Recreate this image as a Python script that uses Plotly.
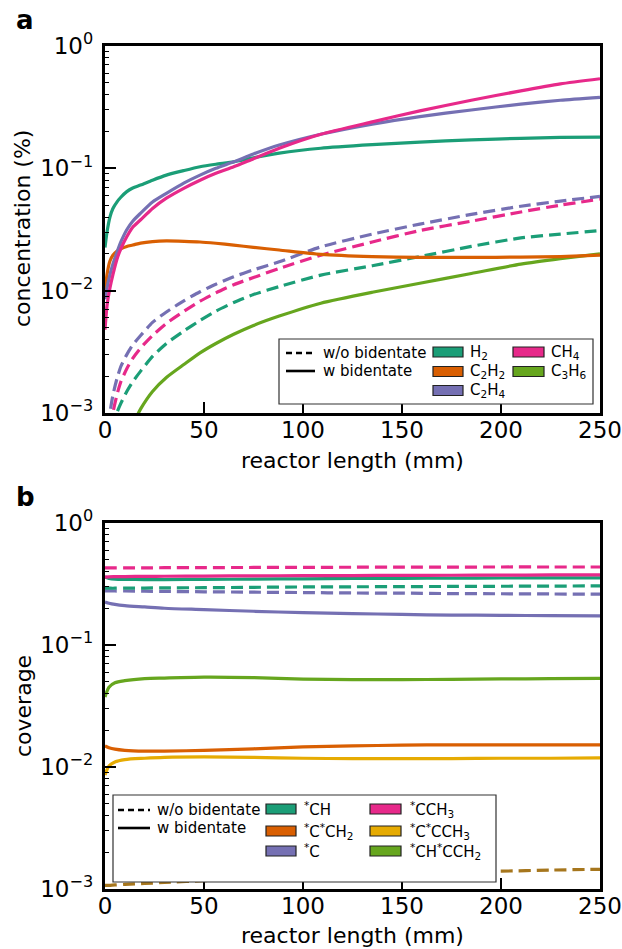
import plotly.graph_objects as go
from plotly.subplots import make_subplots

# ---------------- data: panel a (gas concentration, %) ----------------
x_a = [0, 1, 2.5, 4, 6, 8, 11, 14, 18, 24, 31, 40, 48, 56, 65, 75, 88, 109, 135, 159, 185, 210, 230, 250]

h2_w = [0.0225, 0.030, 0.040, 0.047, 0.053, 0.058, 0.0645, 0.069, 0.073, 0.080, 0.088, 0.096, 0.103, 0.108,
        0.113, 0.122, 0.133, 0.146, 0.156, 0.164, 0.171, 0.176, 0.179, 0.180]
c2h2_w = [0.0095, 0.0135, 0.0175, 0.0195, 0.021, 0.022, 0.023, 0.0236, 0.0245, 0.0252, 0.0255, 0.0253, 0.025, 0.0244,
          0.0236, 0.0226, 0.0215, 0.0198, 0.019, 0.0187, 0.0187, 0.0188, 0.019, 0.0195]
c2h4_w = [0.0085, 0.0105, 0.0135, 0.0165, 0.0205, 0.025, 0.0315, 0.037, 0.043, 0.053, 0.0624, 0.076, 0.088, 0.100,
          0.113, 0.131, 0.155, 0.190, 0.230, 0.265, 0.300, 0.335, 0.360, 0.380]
ch4_w = [0.0048, 0.0075, 0.0105, 0.0135, 0.018, 0.022, 0.0276, 0.033, 0.038, 0.047, 0.057, 0.069, 0.080, 0.091,
         0.103, 0.120, 0.146, 0.190, 0.240, 0.295, 0.360, 0.430, 0.490, 0.540]
c3h6_w = [0.00003, 0.00005, 0.00012, 0.0002, 0.0003, 0.00042, 0.00062, 0.0008, 0.00108, 0.0015, 0.00195, 0.0025,
          0.0031, 0.0037, 0.0044, 0.0052, 0.0062, 0.0079, 0.0097, 0.0115, 0.0138, 0.0165, 0.0183, 0.020]

h2_wo = [0.00005, 0.0001, 0.0003, 0.0006, 0.001, 0.0012, 0.0015, 0.0018, 0.0022, 0.0029, 0.0037, 0.0047, 0.0057,
         0.0068, 0.0080, 0.0093, 0.0108, 0.0134, 0.016, 0.019, 0.023, 0.027, 0.029, 0.031]
c2h4_wo = [0.0002, 0.0005, 0.001, 0.0014, 0.0019, 0.0024, 0.003, 0.0036, 0.0043, 0.0055, 0.0067, 0.0083, 0.0098,
           0.0113, 0.0130, 0.0148, 0.0172, 0.0228, 0.029, 0.035, 0.042, 0.049, 0.054, 0.059]
ch4_wo = [0.0001, 0.0003, 0.0006, 0.001, 0.0014, 0.0018, 0.0023, 0.0028, 0.0034, 0.0043, 0.0054, 0.0068, 0.0082,
          0.0096, 0.0112, 0.0128, 0.0152, 0.0195, 0.025, 0.031, 0.037, 0.044, 0.050, 0.056]

# ---------------- data: panel b (surface coverage) ----------------
x_b = [0, 2, 5, 10, 20, 30, 50, 75, 100, 125, 150, 175, 200, 225, 250]

ch_w = [0.36, 0.352, 0.347, 0.345, 0.344, 0.344, 0.345, 0.347, 0.349, 0.351, 0.352, 0.353, 0.354, 0.355, 0.355]
cch2_w = [0.0149, 0.0144, 0.014, 0.0137, 0.0135, 0.0135, 0.0137, 0.0141, 0.0146, 0.0149, 0.0151, 0.0152, 0.0152, 0.0152, 0.0152]
c_w = [0.225, 0.220, 0.215, 0.210, 0.205, 0.200, 0.195, 0.189, 0.184, 0.181, 0.178, 0.176, 0.175, 0.174, 0.173]
cch3_w = [0.36, 0.362, 0.363, 0.364, 0.365, 0.366, 0.367, 0.369, 0.370, 0.371, 0.372, 0.373, 0.374, 0.375, 0.375]
ccch3_w = [0.0086, 0.0102, 0.0110, 0.0115, 0.0118, 0.0120, 0.0121, 0.0120, 0.0118, 0.0117, 0.0117, 0.0117, 0.0118, 0.0118, 0.0119]
chcch2_w = [0.0375, 0.045, 0.049, 0.051, 0.053, 0.0536, 0.0545, 0.054, 0.0525, 0.052, 0.052, 0.0523, 0.0527, 0.053, 0.0532]

ch_wo = [0.292, 0.292, 0.292, 0.293, 0.293, 0.294, 0.295, 0.297, 0.299, 0.300, 0.301, 0.302, 0.303, 0.304, 0.305]
c_wo = [0.278, 0.278, 0.277, 0.277, 0.276, 0.275, 0.273, 0.271, 0.269, 0.267, 0.266, 0.264, 0.263, 0.262, 0.261]
cch3_wo = [0.428, 0.428, 0.428, 0.429, 0.429, 0.430, 0.431, 0.432, 0.433, 0.434, 0.435, 0.435, 0.436, 0.436, 0.436]
brown_wo = [0.00107, 0.00107, 0.00108, 0.00109, 0.00111, 0.00113, 0.00117, 0.00122, 0.00127, 0.00131, 0.00135, 0.00138, 0.0014, 0.00143, 0.00145]

x_ticks = [0, 50, 100, 150, 200, 250]
y_ticks = [1e-3, 1e-2, 1e-1, 1]
y_ticktext = ["10<sup>−3</sup>", "10<sup>−2</sup>", "10<sup>−1</sup>", "10<sup>0</sup>"]

# Dark2 palette
TEAL, ORANGE, PURPLE, PINK, GREEN, YELLOW, BROWN = (
    "#1b9e77", "#d95f02", "#7570b3", "#e7298a", "#66a61e", "#e6ab02", "#a6761d")

FONT = "DejaVu Sans"
PAGE_W, PAGE_H = 622, 949
W, H = PAGE_W, PAGE_H
# plot-area edges in page pixels
LEFT, RIGHT = 105, 600
PA_TOP, PA_BOT = 46, 413
PB_TOP, PB_BOT = 523, 889
ML, MR, MT, MB = LEFT, PAGE_W - RIGHT, PA_TOP, PAGE_H - PB_BOT

fig = make_subplots(rows=2, cols=1)


def px_x(px):
    return (px - LEFT) / (RIGHT - LEFT)


def px_y(py):
    return (PB_BOT - py) / (PB_BOT - PA_TOP)


def ydom(top, bot):
    return [px_y(bot), px_y(top)]


LW = 3.2
DASH = "12px,6px"

panel_a = [
    (h2_wo, TEAL, DASH), (ch4_wo, PINK, DASH), (c2h4_wo, PURPLE, DASH),
    (c3h6_w, GREEN, "solid"), (c2h2_w, ORANGE, "solid"), (h2_w, TEAL, "solid"),
    (c2h4_w, PURPLE, "solid"), (ch4_w, PINK, "solid"),
]
for ys, col, dash in panel_a:
    fig.add_trace(go.Scatter(x=x_a, y=ys, mode="lines",
                             line=dict(color=col, width=LW, dash=dash, shape="spline", smoothing=0.6),
                             showlegend=False, hoverinfo="skip"), row=1, col=1)

panel_b = [
    (brown_wo, BROWN, DASH),
    (c_wo, PURPLE, DASH), (ch_wo, TEAL, DASH), (cch3_wo, PINK, DASH),
    (c_w, PURPLE, "solid"), (ch_w, TEAL, "solid"), (cch3_w, PINK, "solid"),
    (chcch2_w, GREEN, "solid"), (cch2_w, ORANGE, "solid"), (ccch3_w, YELLOW, "solid"),
]
for ys, col, dash in panel_b:
    fig.add_trace(go.Scatter(x=x_b, y=ys, mode="lines",
                             line=dict(color=col, width=LW, dash=dash, shape="spline", smoothing=0.8),
                             showlegend=False, hoverinfo="skip"), row=2, col=1)

minor_vals = [m * 10 ** e for e in (-3, -2, -1) for m in range(2, 10)]

axis_common = dict(showline=True, linewidth=3.2, linecolor="black", mirror=True, automargin=False,
                   showgrid=False, zeroline=False, ticks="inside", tickcolor="black",
                   tickfont=dict(family=FONT, size=23, color="black"))

for r, (top, bot) in [(1, (PA_TOP, PA_BOT)), (2, (PB_TOP, PB_BOT))]:
    fig.update_xaxes(range=[0, 250], tickvals=x_ticks, ticklen=11, tickwidth=2, ticklabelstandoff=-6,
                     row=r, col=1, **axis_common)
    fig.update_yaxes(type="log", range=[-3, 0], tickvals=y_ticks, ticktext=y_ticktext,
                     ticklen=11, tickwidth=2, ticklabelstandoff=4,
                     minor=dict(tickvals=minor_vals, ticks="inside", ticklen=4, tickwidth=1, tickcolor="black"),
                     domain=ydom(top, bot), row=r, col=1, **axis_common)

shapes = []
annotations = []


def add_legend(box, lines, patches):
    x0, y0, x1, y1 = box
    shapes.append(dict(type="rect", xref="paper", yref="paper", x0=px_x(x0), x1=px_x(x1), y0=px_y(y1), y1=px_y(y0),
                       line=dict(color="#333333", width=1.2), fillcolor="white", layer="above"))
    for (lx0, lx1, ly, dash, txt, tx) in lines:
        shapes.append(dict(type="line", xref="paper", yref="paper", x0=px_x(lx0), x1=px_x(lx1), y0=px_y(ly), y1=px_y(ly),
                           line=dict(color="black", width=2.6, dash=dash), layer="above"))
        annotations.append(dict(x=px_x(tx), y=px_y(ly), xref="paper", yref="paper", text=txt, showarrow=False,
                                xanchor="left", yanchor="middle", font=dict(family=FONT, size=15, color="black")))
    for (px0, px1, pyc, col, txt, tx) in patches:
        shapes.append(dict(type="rect", xref="paper", yref="paper", x0=px_x(px0), x1=px_x(px1),
                           y0=px_y(pyc + 5), y1=px_y(pyc - 5), fillcolor=col,
                           line=dict(color="#222222", width=1.2), layer="above"))
        annotations.append(dict(x=px_x(tx), y=px_y(pyc), xref="paper", yref="paper", text=txt, showarrow=False,
                                xanchor="left", yanchor="middle", font=dict(family=FONT, size=15, color="black")))


add_legend((279, 339, 593, 404),
           [(286, 315, 353, "6px,4px", "w/o bidentate", 321), (286, 315, 371, "solid", "w bidentate", 321)],
           [(433, 463, 352, TEAL, "H<sub>2</sub>", 468), (433, 463, 371.5, ORANGE, "C<sub>2</sub>H<sub>2</sub>", 468),
            (433, 463, 390.5, PURPLE, "C<sub>2</sub>H<sub>4</sub>", 468),
            (513, 544, 352, PINK, "CH<sub>4</sub>", 549), (513, 544, 371.5, GREEN, "C<sub>3</sub>H<sub>6</sub>", 549)])

add_legend((113, 795, 496, 882),
           [(118, 150, 810, "6px,4px", "w/o bidentate", 155), (118, 150, 828, "solid", "w bidentate", 155)],
           [(266, 296, 809, TEAL, "<sup>*</sup>CH", 302),
            (266, 296, 831, ORANGE, "<sup>*</sup>C<sup>*</sup>CH<sub>2</sub>", 302),
            (266, 296, 851, PURPLE, "<sup>*</sup>C", 302),
            (370, 401, 809, PINK, "<sup>*</sup>CCH<sub>3</sub>", 408),
            (370, 401, 831, YELLOW, "<sup>*</sup>C<sup>*</sup>CCH<sub>3</sub>", 408),
            (370, 401, 851, GREEN, "<sup>*</sup>CH<sup>*</sup>CCH<sub>2</sub>", 408)])

# axis titles
TF = dict(family=FONT, size=22, color="black")
for cx, cy in [(352, 460), (352, 936)]:
    annotations.append(dict(x=px_x(cx), y=px_y(cy), xref="paper", yref="paper", text="reactor length (mm)",
                            showarrow=False, xanchor="center", yanchor="middle", font=TF))
for txt, cy in [("concentration (%)", 229), ("coverage", 706)]:
    annotations.append(dict(x=px_x(23), y=px_y(cy), xref="paper", yref="paper", text=txt, textangle=-90,
                            showarrow=False, xanchor="center", yanchor="middle", font=TF))

for lab, py in [("a", 20), ("b", 497)]:
    annotations.append(dict(x=px_x(25), y=px_y(py), xref="paper", yref="paper", text="<b>%s</b>" % lab,
                            showarrow=False, xanchor="center", yanchor="middle",
                            font=dict(family=FONT, size=26, color="black")))

fig.update_layout(width=W, height=H, margin=dict(l=ML, r=MR, t=MT, b=MB, autoexpand=False),
                  plot_bgcolor="white", paper_bgcolor="white",
                  shapes=shapes, annotations=annotations, showlegend=False)

fig.write_html("out.html", config={"displayModeBar": False, "staticPlot": True},
               post_script="document.body.style.margin='0';")
